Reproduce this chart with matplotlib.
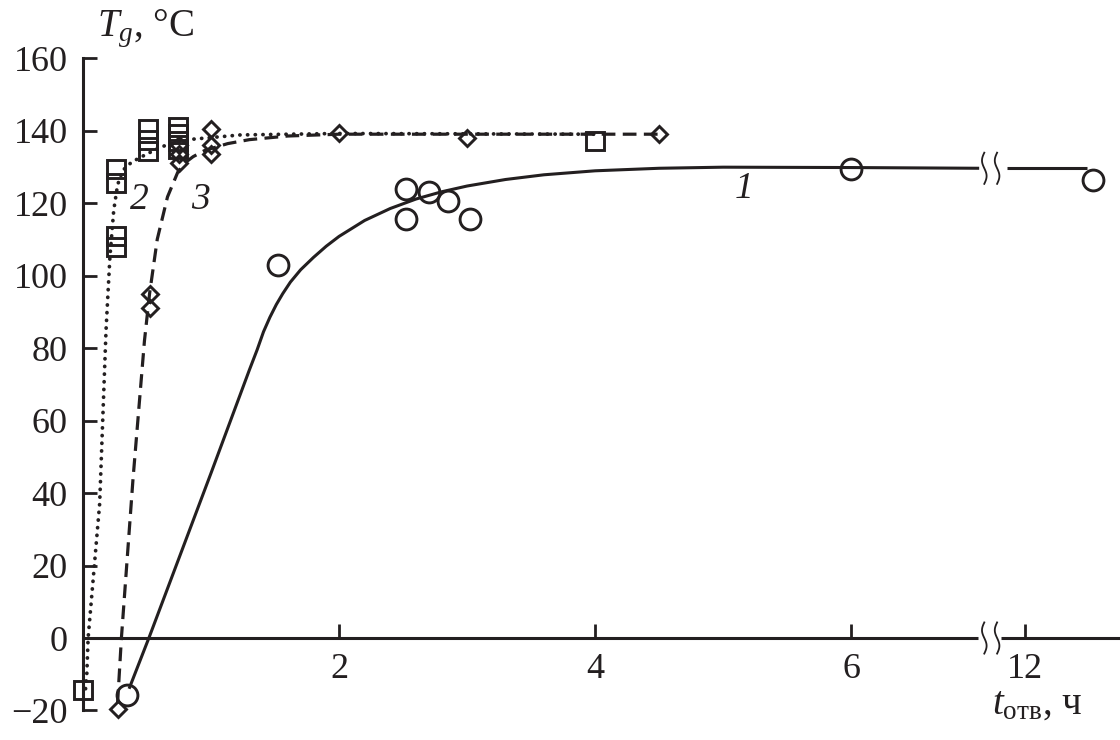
import numpy as np
import matplotlib.pyplot as plt

plt.rcParams['font.family'] = 'Liberation Serif'
plt.rcParams['mathtext.fontset'] = 'custom'
plt.rcParams['mathtext.rm'] = 'Liberation Serif'
plt.rcParams['mathtext.it'] = 'Liberation Serif:italic'

ink = '#231f20'

# measured points, time in hours, Tg in degC
t1 = [0.34, 1.52, 2.52, 2.52, 2.70, 2.85, 3.02, 6.0, 12.53]
tg1 = [-15.7, 103, 124, 115.5, 123, 120.5, 115.5, 129.5, 126.5]

t2 = [0.0, 0.26, 0.26, 0.26, 0.26, 0.51, 0.51, 0.51, 0.74, 0.74, 0.74, 0.74, 4.0]
tg2 = [-14.3, 111, 108, 129.5, 125.5, 140.5, 137.5, 134.5, 141, 139, 137, 135, 137]

t3 = [0.27, 0.52, 0.52, 0.75, 0.75, 0.75, 1.0, 1.0, 1.0, 2.0, 3.0, 4.5]
tg3 = [-19.5, 95, 91, 131, 133.5, 136, 140.5, 136, 133.5, 139.3, 138, 139]

# fitted curves
fit1_t = [0.36, 0.52, 1.0, 1.30, 1.36, 1.41, 1.46, 1.51, 1.56, 1.62, 1.70, 1.80,
          1.90, 2.0, 2.2, 2.4, 2.6, 2.8, 3.0, 3.3, 3.6, 4.0, 4.5, 5.0, 6.0, 7.0]
fit1_tg = [-14, 0.5, 45.5, 74, 79.5, 84.5, 88.5, 92, 95, 98.2, 101.6, 105,
           108.1, 110.8, 115.2, 118.5, 121.1, 123.1, 124.7, 126.5, 127.8, 128.9,
           129.6, 129.9, 129.8, 129.6]
fit1b_t = [11.86, 12.48]
fit1b_tg = [129.6, 129.6]

fit2_t = [0.02, 0.03, 0.04, 0.13, 0.18, 0.21, 0.24, 0.27, 0.31, 0.38, 0.47, 0.58,
          0.68, 0.85, 1.23, 2.0, 4.0]
fit2_tg = [-14, -9.7, 0, 37, 85, 105, 118, 125, 129, 131.3, 133, 135,
           136.4, 137.6, 138.8, 139.2, 139]

fit3_t = [0.27, 0.30, 0.39, 0.48, 0.52, 0.58, 0.66, 0.74, 0.80, 0.86, 0.95, 1.13,
          1.3, 1.6, 2.0, 3.0, 4.5]
fit3_tg = [-18, 0, 43.6, 82, 95, 110, 121.7, 128.5, 131.2, 132.8, 134.5, 136.4,
           137.5, 138.5, 139, 139, 139]

yticks = [-20, 0, 20, 40, 60, 80, 100, 120, 140, 160]
xtick_hours = [2, 4, 6, 12]

# broken time axis: hours after the break are moved next to 6 h
t12 = 7.36


def tx(h):
    h = np.asarray(h, dtype=float)
    return np.where(h > 10, t12 + (h - 12), h)


fig = plt.figure(figsize=(11.2, 7.4), dpi=100)
ax = fig.add_axes([83 / 1120, 0, 1037 / 1120, 0.946])
ax.set_xlim(0, 8.1)
ax.set_ylim(-28.14, 165)

lw = 2.2
ax.plot(tx(fit1_t), fit1_tg, color=ink, lw=lw, solid_capstyle='butt',
        solid_joinstyle='round')
ax.plot(tx(fit1b_t), fit1b_tg, color=ink, lw=lw, solid_capstyle='butt')
ax.plot(tx(fit2_t), fit2_tg, color=ink, lw=2.7, linestyle=(0, (0.05, 2.0)),
        dash_capstyle='round')
ax.plot(tx(fit3_t), fit3_tg, color=ink, lw=2.3, linestyle=(0, (4.3, 2.3)))

ax.plot(tx(t1), tg1, 'o', ms=15, mfc='none', mec=ink, mew=2.1, clip_on=False)
ax.plot(tx(t2), tg2, 's', ms=12.5, mfc='none', mec=ink, mew=2.1, clip_on=False)
ax.plot(tx(t3), tg3, 'D', ms=7.8, mfc='none', mec=ink, mew=2.1, clip_on=False)

# curve numbers
ax.text(0.44, 121, '2', fontsize=27, style='italic', color=ink, ha='center', va='center')
ax.text(0.92, 121, '3', fontsize=27, style='italic', color=ink, ha='center', va='center')
ax.text(5.16, 124, '1', fontsize=27, style='italic', color=ink, ha='center', va='center')

# axes
for s in ['top', 'right', 'bottom']:
    ax.spines[s].set_visible(False)
ax.spines['bottom'].set_position(('data', 0))
ax.spines['left'].set_bounds(-20, 160)
ax.spines['left'].set_linewidth(lw)
ax.spines['left'].set_color(ink)

ax.plot([0, 6.99], [0, 0], color=ink, lw=lw, solid_capstyle='butt', clip_on=False)
ax.plot([7.17, 8.1], [0, 0], color=ink, lw=lw, solid_capstyle='butt', clip_on=False)

# break marks
s = np.linspace(0, 1, 40)
for yc in [0, 129.6]:
    for xm in [7.04, 7.14]:
        ax.plot(xm + 0.018 * np.sin(2 * np.pi * s), yc + (s - 0.5) * 8.6,
                color=ink, lw=1.3, clip_on=False)

ax.set_yticks(yticks)
ax.set_xticks(tx(xtick_hours))
ax.set_xticklabels([str(h) for h in xtick_hours])
ax.tick_params(axis='both', direction='in', length=10, width=2, colors=ink,
               labelsize=26)
ax.tick_params(axis='y', pad=11)
ax.tick_params(axis='x', pad=11)

ax.text(0.11, 166, r'$T_g$, °C', fontsize=28, color=ink, ha='left',
        va='baseline', clip_on=False)
ax.text(7.1, -21, r'$t_{\mathrm{отв}}$, ч', fontsize=28, color=ink,
        ha='left', va='baseline', clip_on=False)

fig.savefig('out.png', dpi=100)
